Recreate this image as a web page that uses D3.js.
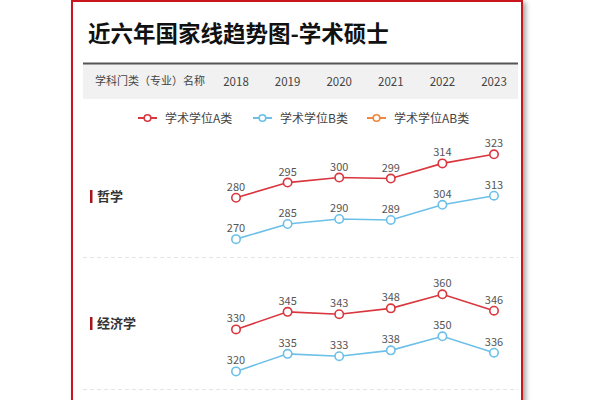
<!DOCTYPE html>
<html><head><meta charset="utf-8">
<script src="https://cdn.jsdelivr.net/npm/d3@7"></script>
<style>
html,body{margin:0;padding:0;background:#fff;overflow:hidden;}
svg{display:block;font-family:"Noto Sans CJK SC","Noto Sans",sans-serif;}
</style></head>
<body>
<svg id="c" width="600" height="400"></svg>
<script>
const title = "近六年国家线趋势图-学术硕士";
const headerLabel = "学科门类（专业）名称";
const years = ["2018","2019","2020","2021","2022","2023"];
const seriesNames = ["学术学位A类","学术学位B类","学术学位AB类"];
const seriesColors = ["#d9363e","#6cc0e8","#f0873a"];
const categories = ["哲学","经济学"];
const valuesA = [[280,295,300,299,314,323],[330,345,343,348,360,346]];
const valuesB = [[270,285,290,289,304,313],[320,335,333,338,350,336]];

const svg = d3.select("#c");
const defs = svg.append("defs");
const f = defs.append("filter").attr("id","sh").attr("x","-10%").attr("y","-10%").attr("width","130%").attr("height","130%");
f.append("feDropShadow").attr("dx",3).attr("dy",2).attr("stdDeviation",2.5).attr("flood-color","#000").attr("flood-opacity",0.35);

// card with border
svg.append("rect").attr("x",72).attr("y",1).attr("width",450).attr("height",420)
  .attr("fill","#fff").attr("stroke","#c8161d").attr("stroke-width",2).attr("filter","url(#sh)");

svg.append("text").attr("x",88).attr("y",42).attr("font-size",22.5).attr("font-weight",700)
  .attr("fill","#111").text(title);

// header band
svg.append("rect").attr("x",83).attr("y",63).attr("width",435).attr("height",36).attr("fill","#f1f1f1");
svg.append("line").attr("x1",83).attr("x2",518).attr("y1",63.5).attr("y2",63.5).attr("stroke","#555").attr("stroke-width",1.8);
svg.append("text").attr("x",95).attr("y",85).attr("font-size",11).attr("fill","#444").text(headerLabel);

const x = d3.scalePoint().domain(years).range([236,494]);
svg.append("g").selectAll("text").data(years).join("text")
  .attr("x",d=>x(d)).attr("y",85.5).attr("text-anchor","middle").attr("font-size",11.5).attr("fill","#444").text(d=>d);

// legend
const legX = [138,253,367];
const lg = svg.append("g").selectAll("g").data(seriesNames).join("g")
  .attr("transform",(d,i)=>`translate(${legX[i]},118)`);
lg.append("line").attr("x1",0).attr("x2",19).attr("stroke",(d,i)=>seriesColors[i]).attr("stroke-width",2);
lg.append("circle").attr("cx",9.5).attr("r",3.3).attr("fill","#fff").attr("stroke",(d,i)=>seriesColors[i]).attr("stroke-width",1.6);
lg.append("text").attr("x",27).attr("y",4.5).attr("font-size",12).attr("fill","#444").text(d=>d);

// panels
const panelLayout = [
  {labelY:196, aTop:154.3, bTop:195.7, k:1.01, sepY:257},
  {labelY:323, aTop:294.3, bTop:336.3, k:1.17, sepY:389}
];
const line = d3.line();
categories.forEach((cat,pi)=>{
  const L = panelLayout[pi];
  const g = svg.append("g");
  g.append("line").attr("x1",83).attr("x2",518).attr("y1",L.sepY+0.5).attr("y2",L.sepY+0.5)
    .attr("stroke","#e4e4e4").attr("stroke-dasharray","4,3").attr("stroke-width",1);
  g.append("rect").attr("x",90).attr("y",L.labelY-6).attr("width",2.5).attr("height",13).attr("fill","#a8161c");
  g.append("text").attr("x",97).attr("y",L.labelY+5).attr("font-size",13).attr("font-weight",700).attr("fill","#333").text(cat);
  [[valuesA[pi],L.aTop,seriesColors[0]],[valuesB[pi],L.bTop,seriesColors[1]]].forEach(([vals,top,col])=>{
    const ext = d3.extent(vals);
    const y = d3.scaleLinear().domain(ext).range([top+(ext[1]-ext[0])*L.k, top]);
    const pts = vals.map((v,i)=>[x(years[i]),y(v)]);
    g.append("path").attr("d",line(pts)).attr("fill","none").attr("stroke",col).attr("stroke-width",1.6);
    g.selectAll(null).data(vals).join("circle").attr("cx",(d,i)=>x(years[i])).attr("cy",d=>y(d))
      .attr("r",4.2).attr("fill","#fff").attr("stroke",col).attr("stroke-width",1.6);
    g.selectAll(null).data(vals).join("text").attr("x",(d,i)=>x(years[i])).attr("y",d=>y(d)-7)
      .attr("text-anchor","middle").attr("font-size",11).attr("fill","#555").text(d=>d);
  });
});
</script>
</body></html>
